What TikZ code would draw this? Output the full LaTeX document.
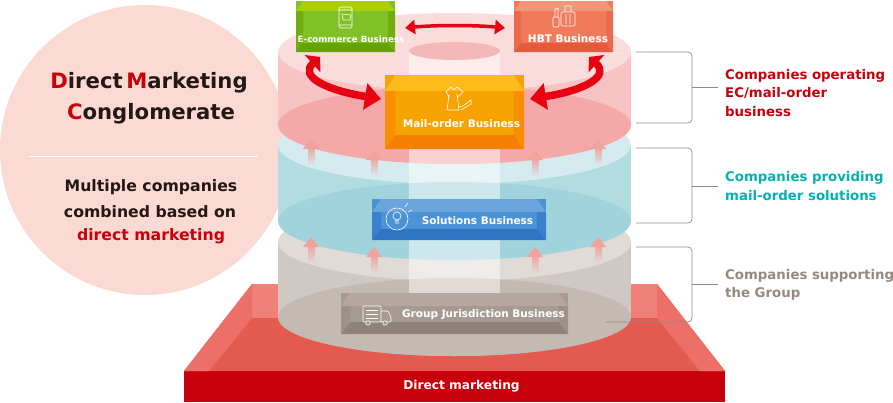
\documentclass[tikz,border=0pt]{standalone}
\usepackage{fontspec}
\setmainfont{DejaVu Sans}
\usetikzlibrary{arrows.meta,fadings}
\definecolor{dmRed}{HTML}{C8000B}
\definecolor{dmTeal}{HTML}{00B2B2}
\definecolor{dmGrey}{HTML}{958880}
\definecolor{dmInk}{HTML}{231815}
\definecolor{dmPeach}{HTML}{FBDAD3}
\definecolor{dmArrow}{HTML}{E60012}
\definecolor{dmFloor}{HTML}{E55A50}
\definecolor{dmWall}{HTML}{F08078}
\definecolor{dmSlope}{HTML}{EC7068}
\definecolor{dmSmall}{HTML}{F2A29C}
\definecolor{greySide}{HTML}{CFC8C3}\definecolor{greyTop}{HTML}{E0DBD7}\definecolor{greyLow}{HTML}{C4BAB4}
\definecolor{tealSide}{HTML}{B2DCE2}\definecolor{tealTop}{HTML}{D5EBF0}\definecolor{tealLow}{HTML}{A1D3DC}
\definecolor{pinkSide}{HTML}{F7C3C3}\definecolor{pinkTop}{HTML}{FBDCDC}\definecolor{pinkLow}{HTML}{F5A8A8}
\definecolor{pinkHole}{HTML}{F5B8B8}
\tikzfading[name=tubefade,left color=transparent!52,middle color=transparent!82,right color=transparent!52]
% one tier: top y, bottom y, colours
\newcommand{\tier}[3]{
 \fill[#3Side] (278,#1) rectangle (631,#2);
 \fill[#3Side] (454.5,#2) ellipse [x radius=176.5,y radius=39];
 \fill[#3Top] (454.5,#1) ellipse [x radius=176.5,y radius=39];
 \fill[#3Low] (454.5,#2) ellipse [x radius=176.5,y radius=39];
}
% one block: left, top, right, bottom, inset x, inset top, inset bottom, colours
\newcommand{\block}[8]{
 \fill[#8Front] (#1,#2) rectangle (#3,#4);
 \fill[#8Top] (#1,#2+#6) -- (#1+#5,#2) -- (#3-#5,#2) -- (#3,#2+#6) -- (#3-#5,#2+#6) -- (#1+#5,#2+#6) -- cycle;
 \fill[#8Low] (#1,#4) -- (#1+#5,#4-#7) -- (#3-#5,#4-#7) -- (#3,#4) -- cycle;
 \fill[#8Side] (#1,#2+#6) -- (#1+#5,#2+#6) -- (#1+#5,#4-#7) -- (#1,#4) -- cycle;
 \fill[#8Side] (#3,#2+#6) -- (#3-#5,#2+#6) -- (#3-#5,#4-#7) -- (#3,#4) -- cycle;
}
\definecolor{greenFront}{HTML}{80C128}\definecolor{greenTop}{HTML}{A9D006}
\definecolor{greenLow}{HTML}{64A302}\definecolor{greenSide}{HTML}{70AE10}
\definecolor{hbtFront}{HTML}{EF7A5C}\definecolor{hbtTop}{HTML}{F29679}
\definecolor{hbtLow}{HTML}{E55A3A}\definecolor{hbtSide}{HTML}{EA6A4C}
\definecolor{mailFront}{HTML}{F6A300}\definecolor{mailTop}{HTML}{FDBB1C}
\definecolor{mailLow}{HTML}{F58000}\definecolor{mailSide}{HTML}{F78F00}
\definecolor{solFront}{HTML}{4B92D7}\definecolor{solTop}{HTML}{69A5DC}
\definecolor{solLow}{HTML}{3075C4}\definecolor{solSide}{HTML}{3A80CC}
\definecolor{grpFront}{HTML}{A69A91}\definecolor{grpTop}{HTML}{B5A79F}
\definecolor{grpLow}{HTML}{8F8379}\definecolor{grpSide}{HTML}{9D9188}
\begin{document}
\begin{tikzpicture}[x=1pt,y=-1pt]
 \tikzset{label/.style = {font=\bfseries\fontsize{10.5}{12}\selectfont,text=white,inner sep=0pt}}
 \tikzset{title/.style = {font=\bfseries\fontsize{21.2}{25}\selectfont,text=dmInk,inner sep=0pt}}
 \tikzset{lead/.style = {font=\bfseries\fontsize{15.7}{18}\selectfont,text=dmInk,inner sep=0pt}}
 \tikzset{side/.style = {font=\bfseries\fontsize{13.3}{18.5}\selectfont,align=left,anchor=west,inner sep=0pt}}
 \tikzset{bracket/.style = {draw=dmGrey,line width=0.7pt,rounded corners=4pt}}
 \tikzset{link/.style = {draw=dmGrey,line width=0.7pt}}
 \tikzset{bigarrow/.style = {draw=dmArrow,line width=7.5pt,{Triangle[length=10pt,width=23pt]}-{Triangle[length=16pt,width=26pt]}}}
 \tikzset{flatarrow/.style = {draw=dmArrow,line width=3.5pt,{Triangle[length=10pt,width=14pt]}-{Triangle[length=10pt,width=14pt]}}}
 \tikzset{icon/.style = {draw=white,line width=0.6pt}}
 \useasboundingbox (0,0) rectangle (893,402);
 % circle
 \fill[dmPeach] (145,150) circle (145);
 % base
 \fill[dmRed] (184,371) rectangle (725,402);
 \fill[dmFloor] (184,371) -- (252,284) -- (657,284) -- (725,371) -- cycle;
 \fill[dmWall] (252,284) rectangle (657,318);
 \fill[dmSlope] (184,371) -- (252,284) -- (252,318) -- (209,371) -- cycle;
 \fill[dmSlope] (725,371) -- (657,284) -- (657,318) -- (700,371) -- cycle;
 % tiers
 \tier{242}{317}{grey}
 \tier{145}{221}{teal}
 \tier{52}{125}{pink}
 % tube
 \fill[white,path fading=tubefade] (409,52) rectangle (500,293);
 \fill[pinkHole] (454.5,51) ellipse [x radius=45.5,y radius=9];
 % small arrows
 \foreach \x/\y in {311/139,374/150,535/150,598/139,311/237,374/247,535/247,598/237}{
  \fill[dmSmall,path fading=south] (\x-3.5,\y+8) rectangle (\x+3.5,\y+26);
  \fill[dmSmall] (\x,\y) -- (\x+8,\y+10) -- (\x-8,\y+10) -- cycle;
 }
 % blocks
 \block{296}{1}{395}{52}{7}{10}{9}{green}
 \block{514}{1}{613}{52}{7}{10}{9}{hbt}
 \block{385}{75}{524}{149}{10}{16}{14}{mail}
 \block{372}{199}{546}{240}{9}{13}{11}{sol}
 \block{341}{293}{568}{334}{9}{13}{12}{grp}
 % block labels
 \node[label,font=\bfseries\fontsize{8.7}{12}\selectfont] (ecom) at (351,39) {E-commerce Business};
 \node[label] (hbt) at (568,39) {HBT Business};
 \node[label] (mail) at (461.5,124) {Mail-order Business};
 \node[label] (sol) at (477.5,221) {Solutions Business};
 \node[label] (grp) at (483.5,315) {Group Jurisdiction Business};
 \node[label,font=\bfseries\fontsize{12.2}{14}\selectfont] (dm) at (461.5,386) {Direct marketing};
 % icons
 \draw[icon,rounded corners=1.5pt] (339,7) rectangle (352,28);
 \draw[icon] (339,10) -- (352,10) (339,25) -- (352,25) (342,14) -- (343,20) -- (350,20) -- (350.5,15) -- cycle;
 \draw[icon,rounded corners=1pt] (553,17) rectangle (559,27) (561,12) rectangle (575,26);
 \draw[icon] (555,17) -- (555,9) -- (558,8) -- (558,17) (565,12) -- (565,6) -- (571,6) -- (571,12) (566,14) -- (566,24) (570,14) -- (570,24);
 \draw[icon] (451,87) -- (446,92) -- (449,97) -- (449,95) -- (447,110) -- (459,110) -- (457,95) -- (458,97) -- (463,92) -- (457,87) -- (454,90) -- cycle;
 \draw[icon] (461,110) -- (471,104) -- (471,100) -- (463,106) -- (459,107);
 \draw[icon] (397,219) circle (11);
 \draw[icon] (397,216) circle (4) (395,221) -- (399,221) (395,223) -- (399,223) (405,207) -- (408,203) (408,212) -- (412,210);
 \draw[icon,rounded corners=1pt] (363,306) rectangle (381,322) (381,311) -- (388,311) -- (391,317) -- (391,322) -- (381,322);
 \draw[icon] (366,310) -- (378,310) (366,314) -- (378,314) (366,318) -- (378,318);
 \draw[icon,fill=grpSide] (368,323) circle (2.2) (385,323) circle (2.2);
 % arrows between blocks
 \coordinate (ecomTip) at (405,28);
 \coordinate (hbtTip) at (505,28);
 \coordinate (ecomLow) at (320,57);
 \coordinate (hbtLow) at (589,57);
 \coordinate (mailLeft) at (381,99);
 \coordinate (mailRight) at (530,99);
 \draw[flatarrow] (ecomTip) .. controls (435,25) and (475,25) .. (hbtTip);
 \draw[bigarrow] (ecomLow) .. controls (299,76) and (325,90) .. (mailLeft);
 \draw[bigarrow] (hbtLow) .. controls (610,76) and (586,90) .. (mailRight);
 % left text
 \node[title] (direct) at (149,83) {\textcolor{dmRed}{D}irect\,\textcolor{dmRed}{M}arketing};
 \node[title] (congl) at (151,114) {\textcolor{dmRed}{C}onglomerate};
 \coordinate (ruleL) at (29,156);
 \coordinate (ruleR) at (258,156);
 \draw[white,line width=1pt] (ruleL) -- (ruleR);
 \node[lead] (multi) at (151,187) {Multiple companies};
 \node[lead] (comb) at (150,212) {combined based on};
 \node[lead,text=dmRed] (based) at (151,236) {direct marketing};
 % right text
 \node[side,text=dmRed] (opr) at (725,93) {Companies operating\\EC/mail-order\\business};
 \node[side,text=dmTeal] (prv) at (725,186) {Companies providing\\mail-order solutions};
 \node[side,text=dmGrey] (sup) at (725,285) {Companies supporting\\the Group};
 % brackets
 \draw[bracket] (636,52) -- (692,52) -- (692,123) -- (636,123);
 \draw[bracket] (636,148) -- (692,148) -- (692,223) -- (636,223);
 \draw[bracket] (636,247) -- (692,247) -- (692,322) -- (606,322);
 \draw[link] (692,87) -- (718,87);
 \draw[link] (692,186) -- (718,186);
 \draw[link] (692,284) -- (718,284);
\end{tikzpicture}
\end{document}
